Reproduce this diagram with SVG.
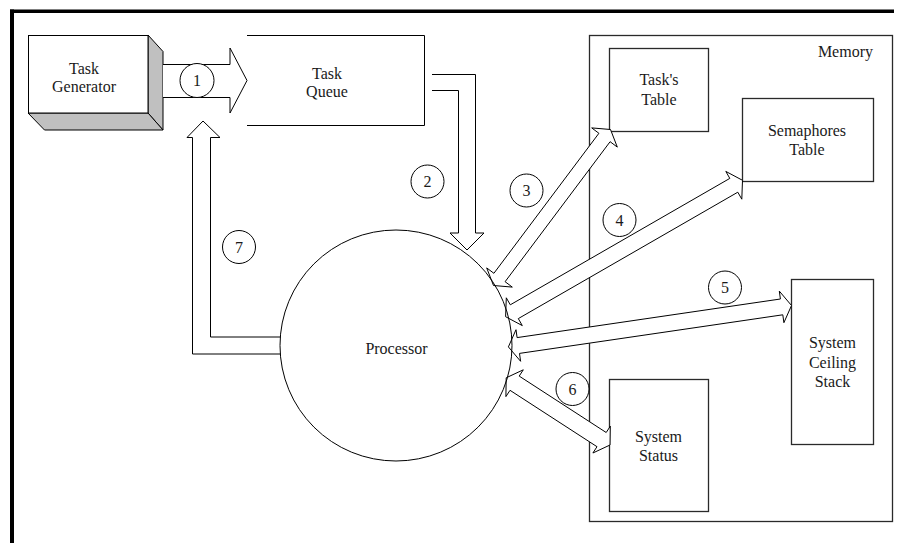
<svg xmlns="http://www.w3.org/2000/svg" width="899" height="543" viewBox="0 0 899 543">
<style>
  .t { font-family: "Liberation Serif", "Times New Roman", serif; font-size: 16px; fill: #1a1a1a; text-anchor: middle; }
  .ln { fill: none; stroke: #000; stroke-width: 1; }
  .box { fill: none; stroke: #2a2a2a; stroke-width: 1.3; }
  .arr { fill: #fff; stroke: #000; stroke-width: 1; stroke-linejoin: miter; }
  .num { fill: #fff; stroke: #000; stroke-width: 1; }
</style>
<rect x="0" y="0" width="899" height="543" fill="#fff"/>
<!-- frame -->
<g id="frame">
  <rect x="10" y="9.5" width="884" height="3.5" fill="#000"/>
  <rect x="10" y="9.5" width="4" height="533.5" fill="#000"/>
</g>

<g id="memory">
  <rect class="box" x="589.5" y="35.5" width="303" height="486"/>
  <text class="t" x="873" y="57" style="text-anchor:end">Memory</text>
</g>
<g id="tasks-table">
  <rect class="box" x="609.5" y="48.5" width="99" height="83"/>
  <text class="t" x="659" y="85">Task's</text>
  <text class="t" x="659" y="104.5">Table</text>
</g>
<g id="semaphores-table">
  <rect class="box" x="742.5" y="98.5" width="131" height="83"/>
  <text class="t" x="807" y="135.5">Semaphores</text>
  <text class="t" x="807" y="155">Table</text>
</g>
<g id="system-ceiling-stack">
  <rect class="box" x="791.5" y="279.5" width="82" height="165"/>
  <text class="t" x="832.5" y="348">System</text>
  <text class="t" x="832.5" y="367.5">Ceiling</text>
  <text class="t" x="832.5" y="387">Stack</text>
</g>
<g id="system-status">
  <rect class="box" x="609.5" y="379.5" width="99" height="132"/>
  <text class="t" x="658.5" y="441.5">System</text>
  <text class="t" x="658.5" y="460.5">Status</text>
</g>

<g id="task-generator">
  <polygon points="148,35 163,51.5 163,130 148,113" fill="#c0c0c0" stroke="#000" stroke-width="1"/>
  <polygon points="28,113 148,113 163,130 44.5,130" fill="#c0c0c0" stroke="#000" stroke-width="1"/>
  <rect x="28.5" y="35.5" width="119.5" height="77.5" fill="#fff" stroke="#000" stroke-width="1"/>
  <text class="t" x="84" y="74">Task</text>
  <text class="t" x="84" y="92">Generator</text>
</g>

<g id="task-queue">
  <path class="ln" d="M247,35.5 H424.5 V125.5 H247"/>
  <text class="t" x="327" y="79">Task</text>
  <text class="t" x="327" y="97">Queue</text>
</g>

<g id="connectors">
  <!-- 1 -->
  <path class="arr" d="M163,64.5 H230 V48 L247,80.5 L230,113 V97.5 H163"/>
  <!-- 2 -->
  <path class="arr" d="M432,74.5 H475.5 V233 H484 L467,250 L450,233 H458.5 V90.5 H432"/>
  <!-- 7 -->
  <path class="arr" d="M280.5,337 H210.5 V137.5 H220 L203,121 L187,137.5 H192.5 V354 H280.5"/>
  <!-- 3 -->
  <polygon class="arr" points="493.5,285.5 512.3,287.1 505.1,281.7 610.1,141.7 617.3,147.1 610.5,129.5 591.7,127.9 598.9,133.3 493.9,273.3 486.7,267.9"/>
  <!-- 4 -->
  <polygon class="arr" points="505.6,316.7 522.3,325.6 518.3,318.6 737.8,192.2 741.8,199.2 742.5,180.3 725.8,171.4 729.8,178.4 510.3,304.8 506.3,297.8"/>
  <!-- 5 -->
  <polygon class="arr" points="508.4,346.9 520.6,361.3 519.5,353.4 782.8,314.8 783.9,322.7 791.5,305.5 779.3,291.1 780.4,299.0 517.1,337.6 516.0,329.7"/>
  <!-- 6 -->
  <polygon class="arr" points="506.2,377.8 505.9,396.6 510.0,390.3 597.0,446.7 592.9,453.0 610,445 610.3,426.2 606.2,432.5 519.2,376.1 523.3,369.8"/>
</g>

<g id="processor">
  <ellipse cx="396" cy="345.5" rx="116" ry="115.5" fill="none" stroke="#000" stroke-width="1"/>
  <text class="t" x="396.5" y="354">Processor</text>
</g>

<g id="labels">
  <circle class="num" cx="197" cy="80.5" r="17"/>
  <text class="t" x="197" y="86">1</text>
  <circle class="num" cx="427.5" cy="181.5" r="16.5"/>
  <text class="t" x="427.5" y="187">2</text>
  <circle class="num" cx="526.5" cy="190.5" r="16.5"/>
  <text class="t" x="526.5" y="196">3</text>
  <circle class="num" cx="619.5" cy="220" r="16.5"/>
  <text class="t" x="619.5" y="225.5">4</text>
  <circle class="num" cx="725" cy="287.5" r="16.5"/>
  <text class="t" x="725" y="293">5</text>
  <circle class="num" cx="572.5" cy="389" r="16.5"/>
  <text class="t" x="572.5" y="394.5">6</text>
  <circle class="num" cx="239" cy="247" r="16.5"/>
  <text class="t" x="239" y="252.5">7</text>
</g>
</svg>
